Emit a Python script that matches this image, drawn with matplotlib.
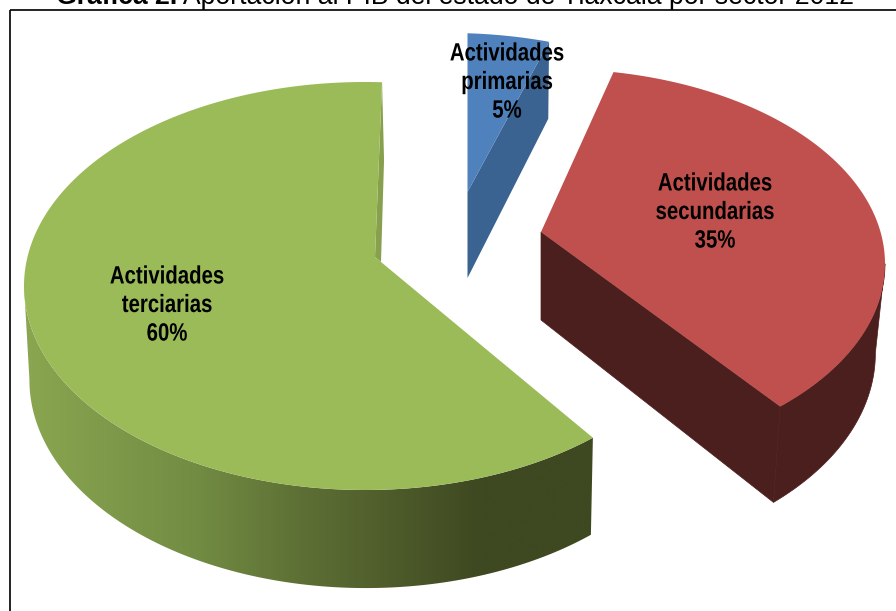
#!/usr/bin/env python3
"""Exploded 3D-look pie: Tlaxcala GDP share by sector, 2012."""

import numpy as np
import matplotlib
matplotlib.use("Agg")
import matplotlib.pyplot as plt
from matplotlib.colors import LinearSegmentedColormap
from matplotlib.patches import Polygon
from matplotlib.patheffects import AbstractPathEffect
from matplotlib.transforms import Affine2D

TITLE_BOLD = "Gráfica 2."
TITLE_REST = " Aportación al PIB del estado de Tlaxcala por sector 2012"
SECTORS = ["Actividades\nprimarias", "Actividades\nsecundarias", "Actividades\nterciarias"]
SHARES = [5, 35, 60]

TOP_COLORS = ["#4F81BD", "#C0504D", "#9BBB59"]
SIDE_COLORS = ["#3A6391", "#4B1F1E"]
CMAP_GREEN = LinearSegmentedColormap.from_list(
    "green_side",
    [(0.0, "#8AA650"), (0.3, "#728C43"), (0.48, "#5E7035"), (0.8, "#3E4821"), (1.0, "#3E4821")])

# pixel geometry of each exploded slice: apex, rim ellipse, rotation,
# depth at the apex plus growth with y, and x squeeze of the lower face around vx
GEOM = [
    dict(apex=(467.5, 192), c=(450, 237), r=(341, 204), rot=0.0, d0=86, dk=0.06, vx=468, shrink=0.99),
    dict(apex=(541, 232), c=(555, 264), r=(330, 195), rot=-3.0, d0=88, dk=0.045, vx=541, shrink=0.972),
    dict(apex=(381, 262), c=(365, 286), r=(341, 204), rot=0.2, d0=93.5, dk=0.02, vx=440, shrink=0.987),
]
LABEL_POS = [(507, 82), (715, 212), (167, 305)]

plt.rcParams["font.family"] = ["Liberation Sans", "DejaVu Sans"]


class Squeeze(AbstractPathEffect):
    """Narrow the glyphs around a display x, there is no narrow font here."""

    def __init__(self, x0, factor):
        super().__init__()
        self.x0 = x0
        self.factor = factor

    def draw_path(self, renderer, gc, tpath, affine, rgbFace=None):
        squeeze = Affine2D().translate(-self.x0, 0).scale(self.factor, 1).translate(self.x0, 0)
        renderer.draw_path(gc, tpath, affine + squeeze, rgbFace)


def rim_points(g, theta_deg):
    """Cast rays from the slice apex onto its rim ellipse."""
    th = np.radians(np.asarray(theta_deg, dtype=float) + g["rot"])
    ax, ay = g["apex"]
    cx, cy = g["c"]
    a, b = g["r"]
    dx, dy = a * np.sin(th), -b * np.cos(th)
    # normalised ellipse coordinates, solve |p + t d| = 1
    px, py = (ax - cx) / a, (ay - cy) / b
    qx, qy = dx / a, dy / b
    qa = qx**2 + qy**2
    qb = 2 * (px * qx + py * qy)
    qc = px**2 + py**2 - 1
    t = (-qb + np.sqrt(qb**2 - 4 * qa * qc)) / (2 * qa)
    return np.column_stack([ax + t * dx, ay + t * dy])


def drop(g, pts):
    """Move top-face points to the bottom face of the slab."""
    pts = np.atleast_2d(pts).astype(float)
    out = pts.copy()
    out[:, 0] = g["vx"] + (pts[:, 0] - g["vx"]) * g["shrink"]
    out[:, 1] = pts[:, 1] + g["d0"] + g["dk"] * (pts[:, 1] - g["apex"][1])
    return out


fig = plt.figure(figsize=(8.96, 6.11), dpi=100, facecolor="white")
ax = fig.add_axes([0, 0, 1, 1])
ax.axis("off")

# slice angles come straight from the shares
edges = np.concatenate([[0], np.cumsum(SHARES)]) / sum(SHARES) * 360

# green slab: outer wall with horizontal shading, up to the leftmost rim point
g = GEOM[2]
rim = rim_points(g, np.linspace(edges[2], edges[3], 400))
wall_top = rim[: np.argmin(rim[:, 0]) + 1]
wall = np.vstack([wall_top, drop(g, wall_top)[::-1]])
clip = Polygon(wall, closed=True, fc="none", ec="none")
ax.add_patch(clip)
grad = ax.imshow(np.linspace(0, 1, 300).reshape(1, -1), cmap=CMAP_GREEN, aspect="auto",
                 extent=[24, 598, 611, 0], zorder=1)
grad.set_clip_path(clip)

# little inner face beside the green opening
apex = np.array(g["apex"], dtype=float)
notch = apex + [-6, -5]
tip = rim[-1]
ax.add_patch(Polygon([tip, tip + [2, 78], apex, notch], closed=True,
                     fc="#87A04E", ec="none", zorder=1.5))
ax.add_patch(Polygon(np.vstack([apex, rim, notch]), closed=True, fc=TOP_COLORS[2], ec="none", zorder=2))

# red slab: wall starts at the rightmost rim point
g = GEOM[1]
rim = rim_points(g, np.linspace(edges[1], edges[2], 300))
apex = np.array(g["apex"], dtype=float)
wall_top = rim[np.argmax(rim[:, 0]):]
ax.add_patch(Polygon(np.vstack([wall_top, drop(g, wall_top)[::-1]]), closed=True,
                     fc=SIDE_COLORS[1], ec=SIDE_COLORS[1], lw=0.5, zorder=1))
cut = np.vstack([apex, rim[-1], drop(g, rim[-1]), drop(g, apex)])
ax.add_patch(Polygon(cut, closed=True, fc=SIDE_COLORS[1], ec=SIDE_COLORS[1], lw=0.5, zorder=1))
ax.add_patch(Polygon(np.vstack([apex, rim]), closed=True, fc=TOP_COLORS[1], ec="none", zorder=2))

# blue slab
g = GEOM[0]
rim = rim_points(g, np.linspace(edges[0], edges[1], 40))
apex = np.array(g["apex"], dtype=float)
cut = np.vstack([apex, rim[-1], drop(g, rim[-1]), drop(g, apex)])
ax.add_patch(Polygon(cut, closed=True, fc=SIDE_COLORS[0], ec="none", zorder=1))
ax.add_patch(Polygon(np.vstack([apex, rim]), closed=True, fc=TOP_COLORS[0], ec="none", zorder=2))

ax.set_xlim(0, 896)
ax.set_ylim(611, 0)

# labels
for name, share, (lx, ly) in zip(SECTORS, SHARES, LABEL_POS):
    txt = ax.text(lx, ly, f"{name}\n{share}%", ha="center", va="center", fontsize=18,
                  fontweight="bold", color="black", linespacing=1.24, zorder=5)
    txt.set_path_effects([Squeeze(ax.transData.transform((lx, ly))[0], 0.815)])

# chart frame, runs off the right and bottom of the crop
ax.plot([10, 10], [611, 10], color="#111111", lw=1.3, zorder=6, solid_capstyle="butt")
ax.plot([9.5, 896], [10, 10], color="#111111", lw=1.3, zorder=6, solid_capstyle="butt")

# title, its upper part falls outside the crop
t = ax.text(56, 3.5, TITLE_BOLD, fontsize=19.2, fontweight="bold", ha="left", va="baseline", zorder=6)
fig.canvas.draw()
bb = t.get_window_extent()
ax.text(56 + bb.width, 3.5, TITLE_REST, fontsize=19.2, ha="left", va="baseline", zorder=6)

fig.savefig("out.png", dpi=100)
